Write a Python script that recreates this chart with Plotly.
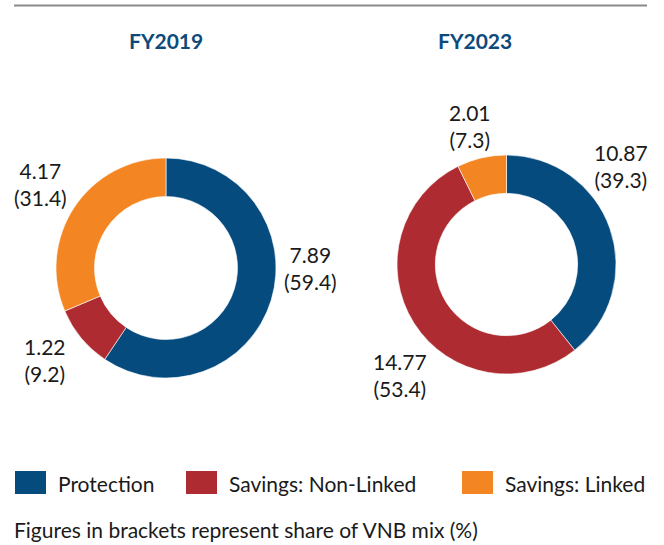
import plotly.graph_objects as go

W, H = 664, 545

categories = ["Protection", "Savings: Non-Linked", "Savings: Linked"]
colors = ["#054B7E", "#AD2B31", "#F38622"]
years = ["FY2019", "FY2023"]
vnb_fy2019 = [7.89, 1.22, 4.17]
share_fy2019 = [59.4, 9.2, 31.4]
vnb_fy2023 = [10.87, 14.77, 2.01]
share_fy2023 = [39.3, 53.4, 7.3]
footnote = "Figures in brackets represent share of VNB mix (%)"

FONT = "Lato"


def px(x):
    return x / W


def py(y):
    return 1 - y / H


fig = go.Figure()

domains = [
    dict(x=[px(56), px(276)], y=[py(378), py(158)]),
    dict(x=[px(397), px(616)], y=[py(374), py(155)]),
]
for name, shares, dom in zip(years, [share_fy2019, share_fy2023], domains):
    fig.add_trace(go.Pie(
        labels=categories, values=shares, name=name,
        marker=dict(colors=colors, line=dict(color="white", width=0.6)),
        hole=0.65, sort=False, direction="clockwise", rotation=0,
        textinfo="none", hoverinfo="label+value", domain=dom,
        showlegend=False,
    ))

annotations = []
# titles
for title, xc in zip(years, [166, 475]):
    annotations.append(dict(
        x=px(xc), y=py(41), xref="paper", yref="paper", text=f"<b>{title}</b>",
        showarrow=False, xanchor="center", yanchor="middle",
        font=dict(family=FONT, size=21, color="#0D4A7C")))

# slice labels
label_pos_2019 = [(310, 268), (45, 360), (40, 184)]
label_pos_2023 = [(621, 166), (400, 375), (470, 126)]
for vals, shares, positions in [(vnb_fy2019, share_fy2019, label_pos_2019),
                                (vnb_fy2023, share_fy2023, label_pos_2023)]:
    for v, s, (x, y) in zip(vals, shares, positions):
        annotations.append(dict(
            x=px(x), y=py(y), xref="paper", yref="paper",
            text=f"{v:.2f}<br>({s:.1f})", showarrow=False,
            xanchor="center", yanchor="middle", align="center",
            font=dict(family=FONT, size=21, color="#1a1a1a")))

# legend
shapes = []
legend_x = [15, 186, 462]
for cat, col, x0 in zip(categories, colors, legend_x):
    shapes.append(dict(type="rect", xref="paper", yref="paper",
                       x0=px(x0), x1=px(x0 + 31), y0=py(494), y1=py(471),
                       fillcolor=col, line=dict(width=0)))
    annotations.append(dict(
        x=px(x0 + 41), y=py(483), xref="paper", yref="paper", text=cat,
        showarrow=False, xanchor="left", yanchor="middle",
        font=dict(family=FONT, size=21, color="#1a1a1a")))

# footnote
annotations.append(dict(
    x=px(12), y=py(529), xref="paper", yref="paper", text=footnote,
    showarrow=False, xanchor="left", yanchor="middle",
    font=dict(family=FONT, size=21, color="#1a1a1a")))

# top rule
shapes.append(dict(type="line", xref="paper", yref="paper",
                   x0=px(14), x1=px(647), y0=py(5.5), y1=py(5.5),
                   line=dict(color="#8a8a8a", width=2)))

fig.update_layout(
    width=W, height=H,
    margin=dict(l=0, r=0, t=0, b=0),
    paper_bgcolor="white", plot_bgcolor="white",
    annotations=annotations, shapes=shapes,
    font=dict(family=FONT),
)

fig.write_html("out.html",
               config={"displayModeBar": False},
               post_script="document.body.style.margin='0';document.body.style.padding='0';")
